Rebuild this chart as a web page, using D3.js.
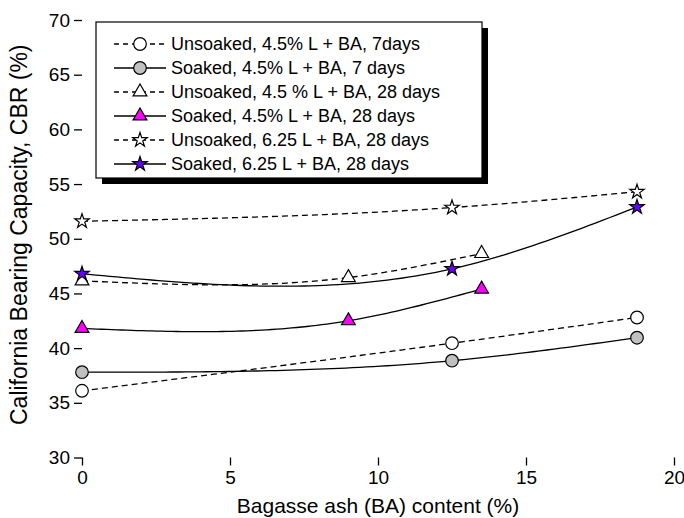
<!DOCTYPE html>
<html>
<head>
<meta charset="utf-8">
<script src="https://cdn.jsdelivr.net/npm/d3@7"></script>
<style>
  html, body { margin: 0; padding: 0; background: #fff; }
  svg { display: block; font-family: Arial, "Liberation Sans", sans-serif; }
</style>
</head>
<body>
<svg id="chart" width="684" height="518"></svg>
<script>
// ---- data ----
const xCircleStar = [0, 12.5, 18.75];
const xTriangle = [0, 9, 13.5];
const unsoaked45_7 = [36.1, 40.45, 42.8];
const soaked45_7 = [37.8, 38.85, 40.95];
const unsoaked45_28 = [46.15, 46.45, 48.65];
const soaked45_28 = [41.8, 42.5, 45.4];
const unsoaked625_28 = [51.6, 52.85, 54.3];
const soaked625_28 = [46.8, 47.25, 52.9];
const seriesNames = [
  "Unsoaked, 4.5% L + BA, 7days",
  "Soaked, 4.5% L + BA, 7 days",
  "Unsoaked, 4.5 % L + BA, 28 days",
  "Soaked, 4.5% L + BA, 28 days",
  "Unsoaked, 6.25 L + BA, 28 days",
  "Soaked, 6.25 L + BA, 28 days"
];
const xTicks = [0, 5, 10, 15, 20];
const yTicks = [30, 35, 40, 45, 50, 55, 60, 65, 70];
const xTitle = "Bagasse ash (BA) content (%)";
const yTitle = "California Bearing Capacity, CBR (%)";

// ---- styles ----
const series = [
  { name: seriesNames[0], x: xCircleStar, y: unsoaked45_7, shape: d3.symbolCircle, fill: "#ffffff", dash: true },
  { name: seriesNames[1], x: xCircleStar, y: soaked45_7, shape: d3.symbolCircle, fill: "#c0c0c0", dash: false },
  { name: seriesNames[2], x: xTriangle, y: unsoaked45_28, shape: d3.symbolTriangle, fill: "#ffffff", dash: true },
  { name: seriesNames[3], x: xTriangle, y: soaked45_28, shape: d3.symbolTriangle, fill: "#ff00ff", dash: false },
  { name: seriesNames[4], x: xCircleStar, y: unsoaked625_28, shape: d3.symbolStar, fill: "#ffffff", dash: true },
  { name: seriesNames[5], x: xCircleStar, y: soaked625_28, shape: d3.symbolStar, fill: "#6a00ff", dash: false }
];
const symSize = { circle: 125, triangle: 82, star: 64 };
function sizeFor(shape) {
  if (shape === d3.symbolCircle) return symSize.circle;
  if (shape === d3.symbolTriangle) return symSize.triangle;
  return symSize.star;
}

const svg = d3.select("#chart");
const x = d3.scaleLinear().domain([0, 20]).range([82, 674]);
const y = d3.scaleLinear().domain([30, 70]).range([457.5, 20]);

// natural cubic spline in x, used only to draw the smooth connecting curve
function naturalSpline(xs, ys) {
  const n = xs.length;
  const h = [], alpha = [0];
  for (let i = 0; i < n - 1; i++) h.push(xs[i + 1] - xs[i]);
  for (let i = 1; i < n - 1; i++)
    alpha.push(3 / h[i] * (ys[i + 1] - ys[i]) - 3 / h[i - 1] * (ys[i] - ys[i - 1]));
  const l = [1], mu = [0], z = [0];
  for (let i = 1; i < n - 1; i++) {
    l[i] = 2 * (xs[i + 1] - xs[i - 1]) - h[i - 1] * mu[i - 1];
    mu[i] = h[i] / l[i];
    z[i] = (alpha[i] - h[i - 1] * z[i - 1]) / l[i];
  }
  const c = new Array(n).fill(0), b = [], d = [];
  for (let j = n - 2; j >= 0; j--) {
    c[j] = (j === 0 ? 0 : z[j] - mu[j] * c[j + 1]);
    b[j] = (ys[j + 1] - ys[j]) / h[j] - h[j] * (c[j + 1] + 2 * c[j]) / 3;
    d[j] = (c[j + 1] - c[j]) / (3 * h[j]);
  }
  return function (t) {
    let j = 0;
    while (j < n - 2 && t > xs[j + 1]) j++;
    const dx = t - xs[j];
    return ys[j] + b[j] * dx + c[j] * dx * dx + d[j] * dx * dx * dx;
  };
}

const line = d3.line().x(d => x(d[0])).y(d => y(d[1]));

// axes
const xAxis = d3.axisBottom(x).tickValues(xTicks).tickSize(8).tickPadding(5).tickFormat(d3.format("d"));
const yAxis = d3.axisLeft(y).tickValues(yTicks).tickSize(8).tickPadding(4).tickFormat(d3.format("d"));
const xMinor = d3.axisBottom(x).tickValues(d3.range(0, 20.01, 2.5)).tickSize(4).tickFormat("");
const yMinor = d3.axisLeft(y).tickValues(d3.range(30, 70.01, 2.5)).tickSize(4).tickFormat("");

const gx = svg.append("g").attr("transform", `translate(0,${y(30)})`);
gx.call(xMinor);
gx.call(xAxis);
const gy = svg.append("g").attr("transform", `translate(${x(0)},0)`);
gy.call(yMinor);
gy.call(yAxis);
svg.selectAll(".domain").attr("stroke", "#000").attr("stroke-width", 1.6);
svg.selectAll(".tick line").attr("stroke", "#000").attr("stroke-width", 1.3);
svg.selectAll(".tick text").attr("fill", "#000").style("font-size", "19px");
gx.selectAll(".domain").filter((d, i) => i === 0).remove();
gy.selectAll(".domain").filter((d, i) => i === 0).remove();
gx.selectAll(".domain").attr("d", `M${x(0)},0H${x(20)}`);
gy.selectAll(".domain").attr("d", `M0,${y(30)}V${y(70)}`);

svg.append("text").attr("x", (x(0) + x(20)) / 2).attr("y", 513)
  .attr("text-anchor", "middle").style("font-size", "21px").text(xTitle);
svg.append("text").attr("transform", `translate(27,${(y(30) + y(70)) / 2 - 4}) rotate(-90)`)
  .attr("text-anchor", "middle").style("font-size", "23px").text(yTitle);

// curves + markers
const plot = svg.append("g");
series.forEach(s => {
  const f = naturalSpline(s.x, s.y);
  const x0 = s.x[0], x1 = s.x[s.x.length - 1];
  const pts = d3.range(0, 81).map(i => { const t = x0 + (x1 - x0) * i / 80; return [t, f(t)]; });
  plot.append("path").attr("d", line(pts)).attr("fill", "none")
    .attr("stroke", "#000").attr("stroke-width", 1.3)
    .attr("stroke-dasharray", s.dash ? "6,4" : null);
});
series.forEach(s => {
  plot.selectAll(null).data(s.x.map((v, i) => [v, s.y[i]])).enter().append("path")
    .attr("transform", d => `translate(${x(d[0])},${y(d[1])})`)
    .attr("d", d3.symbol().type(s.shape).size(sizeFor(s.shape)))
    .attr("fill", s.fill).attr("stroke", "#000").attr("stroke-width", 1.2);
});

// legend
const lg = { x: 96, y: 22, w: 386, h: 156, row: 24, first: 22 };
svg.append("rect").attr("x", lg.x + 6).attr("y", lg.y + 6).attr("width", lg.w).attr("height", lg.h).attr("fill", "#000");
svg.append("rect").attr("x", lg.x).attr("y", lg.y).attr("width", lg.w).attr("height", lg.h)
  .attr("fill", "#fff").attr("stroke", "#000").attr("stroke-width", 1.2);
series.forEach((s, i) => {
  const cy = lg.y + lg.first + i * lg.row;
  const g = svg.append("g").attr("transform", `translate(0,${cy})`);
  g.append("line").attr("x1", 114).attr("x2", 166).attr("y1", 0).attr("y2", 0)
    .attr("stroke", "#000").attr("stroke-width", 1.3)
    .attr("stroke-dasharray", s.dash ? "5,4" : null);
  g.append("path").attr("transform", "translate(140,0)")
    .attr("d", d3.symbol().type(s.shape).size(sizeFor(s.shape)))
    .attr("fill", s.fill).attr("stroke", "#000").attr("stroke-width", 1.2);
  g.append("text").attr("x", 171).attr("y", 0).attr("dy", "0.35em")
    .style("font-size", "18px").text(s.name);
});
</script>
</body>
</html>
